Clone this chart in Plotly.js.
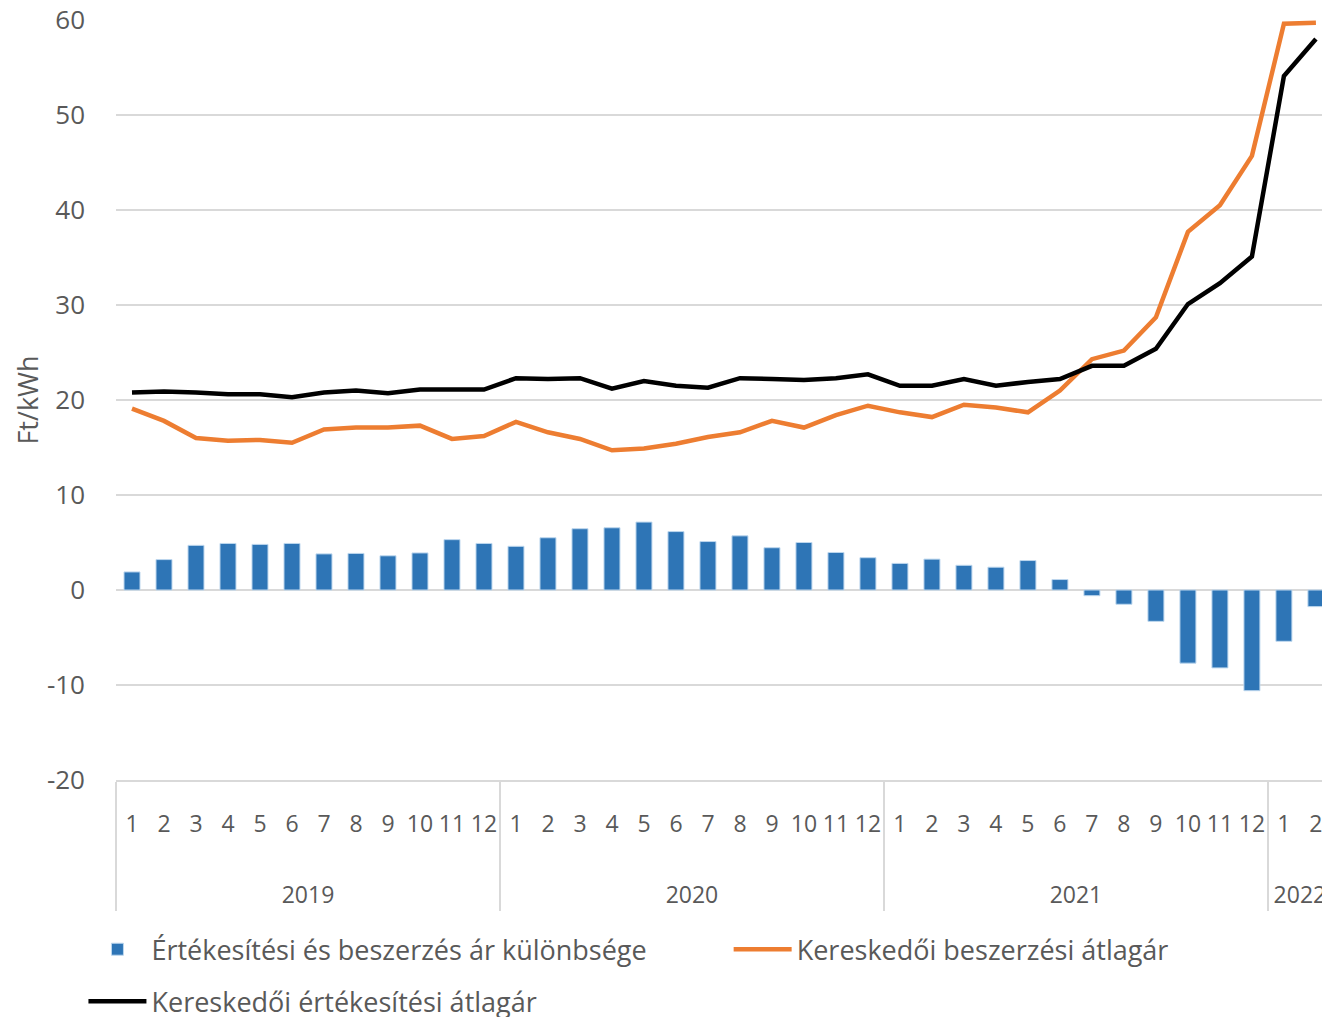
<!DOCTYPE html>
<html>
<head>
<meta charset="utf-8">
<script src="https://cdn.plot.ly/plotly-3.0.1.min.js"></script>
<style>html,body{margin:0;padding:0;background:#fff;}#chart{width:1322px;height:1017px;}</style>
</head>
<body>
<div id="chart"></div>
<script>
// Year / month categories
var years = ['2019','2020','2021','2022'];
var monthsPerYear = [12, 12, 12, 2];
var monthLabels = ['1','2','3','4','5','6','7','8','9','10','11','12'];

// Y-axis ticks
var yTickVals = [-20,-10,0,10,20,30,40,50,60];
var yTickText = ['-20','-10','0','10','20','30','40','50','60'];

// Kereskedői értékesítési átlagár (Ft/kWh)
var sellAvg = [20.8,20.9,20.8,20.6,20.6,20.3,20.8,21.0,20.7,21.1,21.1,21.1,
               22.3,22.2,22.3,21.2,22.0,21.5,21.3,22.3,22.2,22.1,22.3,22.7,
               21.5,21.5,22.2,21.5,21.9,22.2,23.6,23.6,25.4,30.1,32.3,35.1,
               54.1,58.0];
// Kereskedői beszerzési átlagár (Ft/kWh)
var buyAvg = [19.1,17.8,16.0,15.7,15.8,15.5,16.9,17.1,17.1,17.3,15.9,16.2,
              17.7,16.6,15.9,14.7,14.9,15.4,16.1,16.6,17.8,17.1,18.4,19.4,
              18.7,18.2,19.5,19.2,18.7,21.0,24.3,25.2,28.7,37.7,40.5,45.7,
              59.6,59.7];
// Értékesítési és beszerzés ár különbsége
var priceDiff = [1.9,3.2,4.7,4.9,4.8,4.9,3.8,3.85,3.6,3.9,5.3,4.9,
                 4.6,5.5,6.45,6.55,7.15,6.15,5.1,5.7,4.45,5.0,3.95,3.4,
                 2.8,3.25,2.6,2.4,3.1,1.1,-0.6,-1.5,-3.3,-7.7,-8.2,-10.6,
                 -5.4,-1.75];

var seriesNames = ['Értékesítési és beszerzés ár különbsége','Kereskedői beszerzési átlagár','Kereskedői értékesítési átlagár'];
var yTitle = 'Ft/kWh';

var yearRow = [], monthRow = [];
years.forEach(function(y, i){
  // leading line breaks only lower the year row below the month row
  for (var m = 0; m < monthsPerYear[i]; m++){ yearRow.push('<br><br>' + y); monthRow.push(monthLabels[m]); }
});
var xcat = [yearRow, monthRow];

var FONT = 'Open Sans, sans-serif';
var TXT = '#595959';

var traces = [
  {type:'bar', x:xcat, y:priceDiff, name:seriesNames[0], legend:'legend', legendgroup:'g1',
   marker:{color:'#2e75b6', line:{color:'#bdd7ee', width:1}}},
  {type:'scatter', mode:'lines', x:xcat, y:buyAvg, name:seriesNames[1], legend:'legend2',
   line:{color:'#ed7d31', width:4.5}},
  {type:'scatter', mode:'lines', x:xcat, y:sellAvg, name:seriesNames[2], legend:'legend', legendgroup:'g2',
   line:{color:'#000000', width:4.5}}
];

var legendFont = {family:FONT, size:27, color:TXT};

var layout = {
  width:1322, height:1017,
  margin:{l:116, r:0, t:20, b:237, autoexpand:false},
  paper_bgcolor:'#ffffff', plot_bgcolor:'#ffffff',
  font:{family:FONT, size:23, color:TXT},
  bargap:0.5,
  showlegend:true,
  xaxis:{
    type:'multicategory',
    range:[-0.5, 37.19],
    showgrid:false, zeroline:false,
    showline:true, linecolor:'#d9d9d9', linewidth:1.5,
    ticks:'', tickangle:0, ticklabelstandoff:23,
    showdividers:true, dividercolor:'#d9d9d9', dividerwidth:1.5,
    tickfont:{family:FONT, size:23, color:TXT}
  },
  yaxis:{
    range:[-20, 60], tickmode:'array', tickvals:yTickVals, ticktext:yTickText,
    showgrid:true, gridcolor:'#d9d9d9', gridwidth:1.5,
    zeroline:true, zerolinecolor:'#d9d9d9', zerolinewidth:1.5,
    showline:false, ticks:'', ticklabelstandoff:30,
    tickfont:{family:FONT, size:26, color:TXT},
    title:{text:yTitle, font:{family:FONT, size:27, color:TXT}, standoff:0}
  },
  legend:{
    orientation:'v', xref:'paper', yref:'paper',
    x:-0.027, xanchor:'left', y:-0.191, yanchor:'top',
    itemwidth:58, tracegroupgap:14, traceorder:'grouped',
    font:legendFont
  },
  legend2:{
    orientation:'v', xref:'paper', yref:'paper',
    x:0.508, xanchor:'left', y:-0.191, yanchor:'top',
    itemwidth:58,
    font:legendFont
  }
};

Plotly.newPlot('chart', traces, layout, {displayModeBar:false, staticPlot:true});
</script>
</body>
</html>
